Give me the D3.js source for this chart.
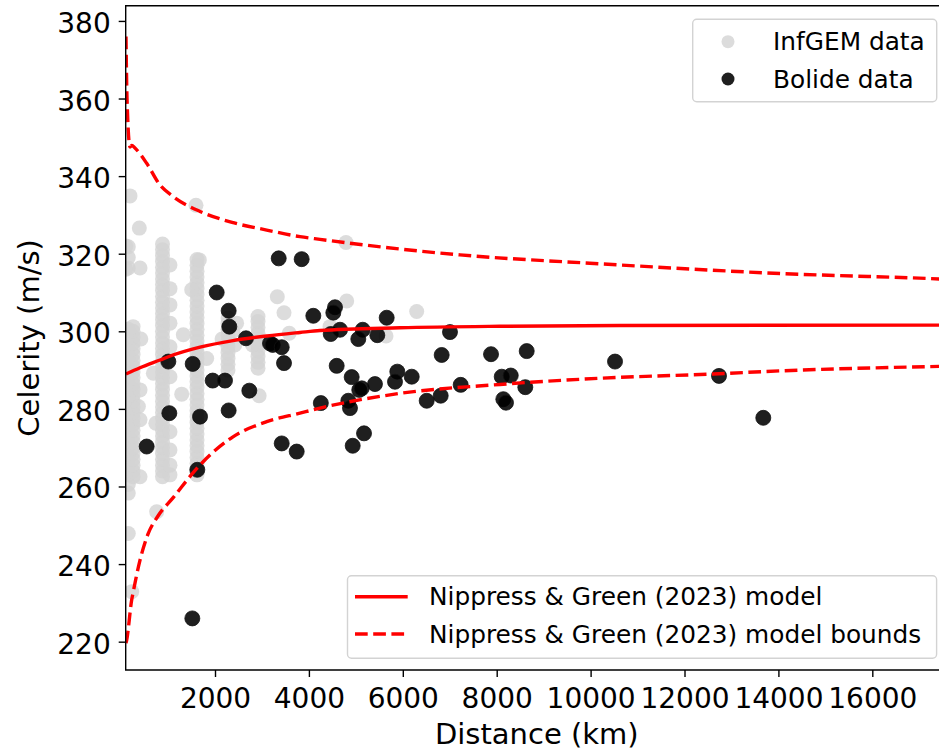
<!DOCTYPE html>
<html><head><meta charset="utf-8">
<script src="https://cdn.jsdelivr.net/npm/d3@7"></script>
<style>
html,body{margin:0;padding:0;background:#fff;}
svg{display:block;font-family:"DejaVu Sans",sans-serif;}
</style></head><body>
<svg id="chart" width="939" height="750"></svg>
<script>
// ---------- data ----------
const xTicks = [2000, 4000, 6000, 8000, 10000, 12000, 14000, 16000];
const yTicks = [220, 240, 260, 280, 300, 320, 340, 360, 380];
const xLabel = "Distance (km)";
const yLabel = "Celerity (m/s)";
const legendScatter = ["InfGEM data", "Bolide data"];
const legendLines = ["Nippress & Green (2023) model", "Nippress & Green (2023) model bounds"];

// Bolide data: [distance km, celerity m/s]
const bolideData = [
  [1517,226.0],[1623,264.3],[545,270.3],[1006,292.2],[1525,291.6],[1027,278.9],[1681,278.0],
  [1951,287.3],[2213,287.3],[2291,279.6],[2036,310.0],[2291,305.3],[2305,301.2],[2660,298.2],
  [2731,284.7],[3171,296.9],[3229,296.5],[3421,295.9],[3470,291.8],[3357,318.8],[3846,318.6],
  [4094,304.0],[3421,271.1],[3740,269.0],[4254,281.5],[4556,306.2],[4520,304.8],[4465,299.3],
  [4663,300.4],[5146,300.4],[5052,298.0],[5457,299.0],[5657,303.5],[4592,291.1],[4911,288.2],
  [5073,284.9],[5125,285.3],[5407,286.4],[4840,282.1],[4875,280.2],[5174,273.7],[4933,270.5],
  [5883,289.6],[5834,287.0],[6190,288.3],[6828,293.9],[7005,299.8],[6509,282.1],[6807,283.4],
  [7233,286.2],[7879,294.1],[8107,288.3],[8299,288.6],[8141,282.5],[8198,281.6],[8639,294.9],
  [8609,285.6],[10520,292.2],[12735,288.5],[13678,277.7]
];

// InfGEM data: station distance with the celerities read at that distance
const infgemColumns = [
  [153, [247.9,258.3,260.5,263,265.5,268,270.5,273,275.5,278,280.5,283,285.5,288,290.5,293,295.5,298,300.5,316.3,319,321.8]],
  [255, [262.5,264,265.5,267,268.5,270,271.5,273,274.5,276,277.5,279,280.5,282,283.5,285,286.5,288,289.5,291,292.5,294,295.5,297,298.5,300,301.2]],
  [882, [262.5,264,265.5,267,268.5,270,271.5,273,274.5,276,277.5,279,280.5,282,283.5,285,286.5,288,289.5,291,292.5,294,295.5,297,298.5,300,301.5,303,304.5,306,307.5,309,310.5,312,313.5,315,316.5,318,319.5,321,322.5]],
  [1041, [263,265.5,269.4,274.1,288.3,296,302.1,306.8,311,317.1]],
  [1617, [263,264.5,266,267.5,269,270.5,272,273.5,275,276.5,278,279.5,281,282.5,284,285.5,287,288.5,290,291.5,293,294.5,296,297.5,299,300.5,302,303.5,305,306.5,308,309.5,311,312.5,314,315.5,317,318.5]],
  [2277, [290,291.5,293,294.5,296,297.5,299,300.5,302,303.4]],
  [2916, [290.5,292,293.5,295,296.5,298,299.5,301,302.5,303.8]]
];
const infgemScatter = [
  [100,316],[100,322],[190,334.9],[388,326.6],[403,316.3],[403,284.9],[368,280.6],[403,277.2],
  [403,262.5],[420,298],[226,232.9],[687,289.2],[758,253.5],[740,276.3],[1291,283.8],[1325,299.1],
  [1504,310.7],[1595,332.5],[1666,318.4],[1823,293.0],[2150,298],[2380,300],[2460,302.1],[2420,296.5],
  [2940,283.4],[2800,296.5],[3327,308.9],[3470,304.8],[3580,299.5],[4450,301.2],[4790,322.9],
  [4805,307.8],[5642,298.8],[6296,305.1]
];

// Nippress & Green (2023) model and bounds
const modelCurve = [
  [104,289.0],[403,290.6],[829,292.6],[1020,293.5],[1681,295.9],[2383,297.6],[3108,298.8],
  [3810,299.7],[4236,300.2],[5940,300.9],[8070,301.3],[10626,301.5],[17610,301.6]
];
const modelUpper = [
  [104,376.0],[126,360.0],[190,347.5],[230,347.9],[290,347.3],[545,343.3],[829,337.7],[1112,334.7],
  [1681,330.9],[2390,328.0],[3101,326.1],[3810,324.4],[4236,323.7],[7218,319.7],[10200,317.4],
  [14034,314.9],[17420,313.5],[17610,313.4]
];
const modelLower = [
  [104,219.6],[119,220.4],[226,230.8],[253,232.5],[403,241.0],[579,247.9],[775,252.2],[1127,257.4],
  [1531,263.5],[1717,266.0],[2383,272.8],[3101,276.7],[3810,278.9],[4236,280.2],[5940,284.0],
  [8070,286.3],[10200,287.9],[12607,289.0],[14034,289.8],[17610,291.0]
];

// ---------- layout ----------
const L = 125.7, R = 947.9, T = 5.8, B = 670;
const svg = d3.select("#chart");
const x = d3.scaleLinear().domain([98, 17610]).range([L, R]);
const y = d3.scaleLinear().domain([212.7, 383.9]).range([B, T]);

svg.append("defs").append("clipPath").attr("id", "clip")
  .append("rect").attr("x", L).attr("y", T).attr("width", R - L).attr("height", B - T);

const plot = svg.append("g").attr("clip-path", "url(#clip)");

const infgemPoints = infgemColumns.flatMap(([d, vs]) => vs.map(v => [d, v])).concat(infgemScatter);

plot.append("g").selectAll("circle").data(infgemPoints).join("circle")
  .attr("cx", d => x(d[0])).attr("cy", d => y(d[1])).attr("r", 7.5)
  .attr("fill", "#d3d3d3").attr("fill-opacity", 0.8);

plot.append("g").selectAll("circle").data(bolideData).join("circle")
  .attr("cx", d => x(d[0])).attr("cy", d => y(d[1])).attr("r", 7.5)
  .attr("fill", "#000").attr("fill-opacity", 0.88)
  .attr("stroke", "#111").attr("stroke-width", 0.8);

const line = d3.line().x(d => x(d[0])).y(d => y(d[1])).curve(d3.curveMonotoneX);
plot.append("path").attr("d", line(modelCurve)).attr("fill", "none")
  .attr("stroke", "#ff0000").attr("stroke-width", 3.4);
[modelUpper, modelLower].forEach(c => {
  plot.append("path").attr("d", line(c)).attr("fill", "none")
    .attr("stroke", "#ff0000").attr("stroke-width", 3.4).attr("stroke-dasharray", "12.7,5.5");
});

// ---------- axes ----------
const gx = svg.append("g").attr("transform", `translate(0,${B})`)
  .call(d3.axisBottom(x).tickValues(xTicks).tickFormat(d3.format("d")).tickSize(7).tickPadding(11).tickSizeOuter(0));
const gy = svg.append("g").attr("transform", `translate(${L},0)`)
  .call(d3.axisLeft(y).tickValues(yTicks).tickFormat(d3.format("d")).tickSize(7).tickPadding(8).tickSizeOuter(0));
[gx, gy].forEach(g => {
  g.select(".domain").remove();
  g.attr("font-family", "DejaVu Sans").attr("font-size", 28);
  g.selectAll(".tick line").attr("stroke", "#000").attr("stroke-width", 1.4);
  g.selectAll(".tick text").attr("fill", "#000");
});
gy.selectAll(".tick text").attr("dy", "0.41em");

svg.append("path").attr("d", `M${L},${T}H${R}V${B}H${L}Z`)
  .attr("fill", "none").attr("stroke", "#000").attr("stroke-width", 1.4);

svg.append("text").attr("x", (L + R) / 2).attr("y", 744).attr("text-anchor", "middle")
  .attr("font-size", 29).attr("fill", "#000").text(xLabel);
svg.append("text").attr("transform", `translate(38.5,${(T + B) / 2}) rotate(-90)`)
  .attr("text-anchor", "middle").attr("font-size", 29).attr("fill", "#000").text(yLabel);

// ---------- legends ----------
const lg1 = svg.append("g");
lg1.append("rect").attr("x", 692.7).attr("y", 19.3).attr("width", 244).attr("height", 82.4).attr("rx", 4)
  .attr("fill", "#fff").attr("fill-opacity", 0.8).attr("stroke", "#d3d3d3").attr("stroke-width", 1.4);
const rows1 = [41.7, 79];
lg1.append("circle").attr("cx", 728).attr("cy", rows1[0]).attr("r", 6.5).attr("fill", "#d3d3d3").attr("fill-opacity", 0.8);
lg1.append("circle").attr("cx", 728).attr("cy", rows1[1]).attr("r", 6.5).attr("fill", "#000").attr("fill-opacity", 0.88);
legendScatter.forEach((t, i) => lg1.append("text").attr("x", 773).attr("y", rows1[i] + 8.6)
  .attr("font-size", 24.8).attr("fill", "#000").text(t));

const lg2 = svg.append("g");
lg2.append("rect").attr("x", 347.5).attr("y", 575.7).attr("width", 589.1).attr("height", 82.6).attr("rx", 4)
  .attr("fill", "#fff").attr("fill-opacity", 0.8).attr("stroke", "#d3d3d3").attr("stroke-width", 1.4);
const rows2 = [596.7, 634];
lg2.append("line").attr("x1", 355).attr("x2", 407.7).attr("y1", rows2[0]).attr("y2", rows2[0])
  .attr("stroke", "#ff0000").attr("stroke-width", 3.4);
lg2.append("line").attr("x1", 355).attr("x2", 407.7).attr("y1", rows2[1]).attr("y2", rows2[1])
  .attr("stroke", "#ff0000").attr("stroke-width", 3.4).attr("stroke-dasharray", "12.7,5.5");
legendLines.forEach((t, i) => lg2.append("text").attr("x", 429).attr("y", rows2[i] + 8.6)
  .attr("font-size", 24.8).attr("fill", "#000").text(t));
</script>
</body></html>
